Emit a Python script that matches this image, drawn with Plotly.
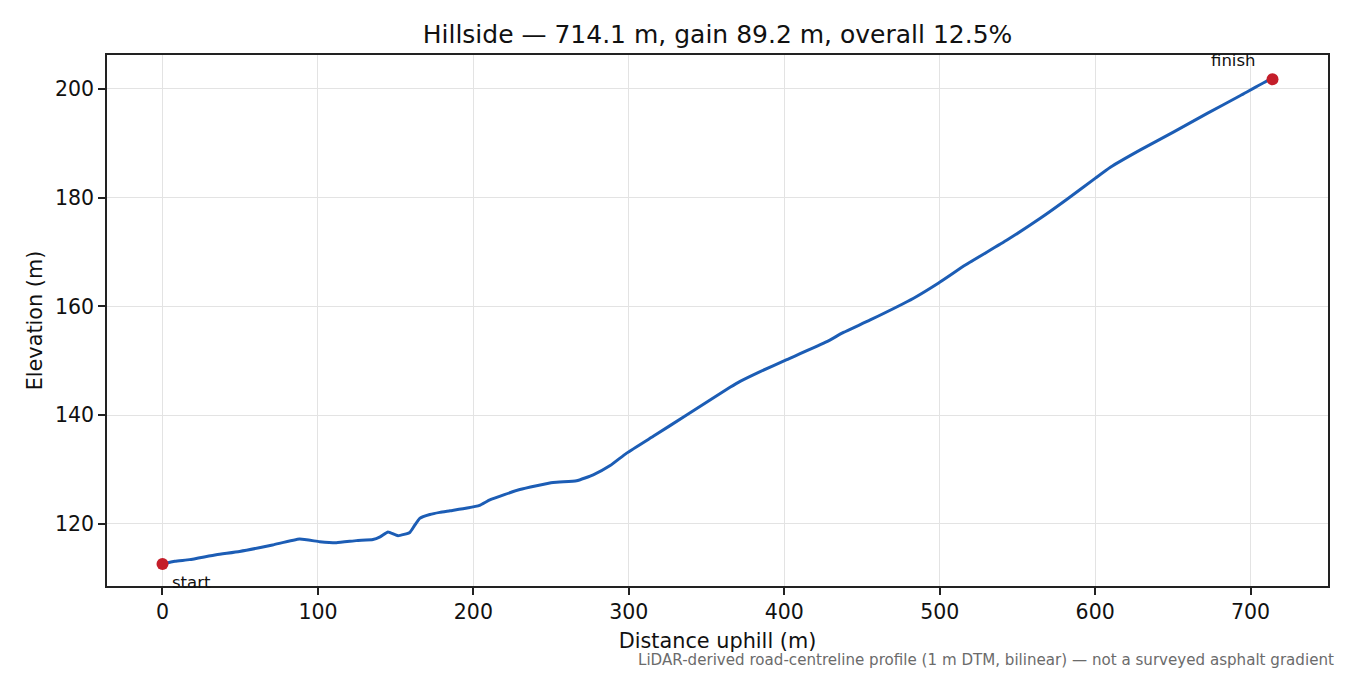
import plotly.graph_objects as go

# ---- data ----
distance_m = [0, 8, 17.4, 34.6, 49.6, 70.8, 88.2, 101.1, 111.9, 124.7, 135.4, 140,
              145.1, 151.5, 159.1, 162, 165.5, 172, 178.4, 185, 196, 204, 210.6,
              229.9, 251.3, 266.4, 277.1, 288, 298.6, 315.7, 337.2, 365.1, 371.6,
              384.5, 401.6, 427.4, 438.1, 455.3, 483.2, 499.3, 516.5, 543.3, 564.7,
              581.9, 600.2, 609.8, 629.1, 650.6, 672.1, 693.5, 710.7, 714.1]
elevation_m = [112.6, 113.1, 113.4, 114.3, 114.9, 116.1, 117.2, 116.7, 116.5, 116.9, 117.1, 117.6,
               118.5, 117.8, 118.4, 119.6, 121.0, 121.7, 122.1, 122.4, 122.9, 123.4, 124.4,
               126.3, 127.6, 127.9, 129.0, 130.7, 133.0, 136.1, 140.0, 145.1, 146.2,
               148.0, 150.2, 153.5, 155.2, 157.5, 161.5, 164.3, 167.6, 172.2, 176.2,
               179.7, 183.6, 185.6, 188.8, 192.1, 195.5, 198.8, 201.5, 201.8]
endpoint_labels = ["start", "finish"]
x_ticks = [0, 100, 200, 300, 400, 500, 600, 700]
y_ticks = [120, 140, 160, 180, 200]

title_text = "Hillside — 714.1 m, gain 89.2 m, overall 12.5%"
note_text = "LiDAR-derived road-centreline profile (1 m DTM, bilinear) — not a surveyed asphalt gradient"

FONT = "DejaVu Sans"
LINE_BLUE = "#1c5db5"
MARK_RED = "#c41e2a"

fig = go.Figure()
fig.add_trace(go.Scatter(x=distance_m, y=elevation_m, mode="lines",
                         line=dict(color=LINE_BLUE, width=3, shape="spline", smoothing=0.4),
                         showlegend=False, hoverinfo="skip"))
end_x = [distance_m[0], distance_m[-1]]
end_y = [elevation_m[0], elevation_m[-1]]
fig.add_trace(go.Scatter(x=end_x, y=end_y, mode="markers",
                         marker=dict(color=MARK_RED, size=12), showlegend=False))

fig.add_annotation(x=end_x[0], y=end_y[0], text=endpoint_labels[0], showarrow=False,
                   xanchor="left", yanchor="middle", xshift=8, yshift=-19,
                   font=dict(family=FONT, size=16.5, color="#111"))
fig.add_annotation(x=end_x[1], y=end_y[1], text=endpoint_labels[1], showarrow=False,
                   xanchor="center", yanchor="middle", xshift=-39, yshift=19,
                   font=dict(family=FONT, size=16.5, color="#111"))

# page body has an 8px margin, so the figure is drawn 8px right/down
OFF = 8
W, H = 1350 - OFF, 675 - OFF
L, R, T, B = 107 - OFF, 22, 55 - OFF, 89
pw = W - L - R
ph = H - T - B
fig.add_annotation(xref="paper", yref="paper", x=(1336 - 107) / pw, y=(586 - 660) / ph,
                   text=note_text, showarrow=False, xanchor="right", yanchor="middle",
                   font=dict(family=FONT, size=15.1, color="#6b6b6b"))

axis_common = dict(showline=True, linecolor="#222", linewidth=1.5, mirror=True,
                   ticks="outside", ticklen=7, tickwidth=1.5, tickcolor="#222",
                   showgrid=True, gridcolor="#e3e3e3", gridwidth=1.2, zeroline=False,
                   tickfont=dict(family=FONT, size=20.5, color="#111"))

fig.update_layout(
    width=W, height=H,
    margin=dict(l=L, r=R, t=T, b=B),
    plot_bgcolor="white", paper_bgcolor="white",
    font=dict(family=FONT, color="#111"),
    title=dict(text=title_text, x=0.5, xref="paper", xanchor="center",
               y=1 - (34 - OFF) / H, yref="container", yanchor="middle",
               font=dict(family=FONT, size=25, color="#111")),
    xaxis=dict(range=[-35.7, 749.8], tickvals=x_ticks,
               title=dict(text="Distance uphill (m)", standoff=10,
                          font=dict(family=FONT, size=20.8, color="#111")),
               **axis_common),
    yaxis=dict(range=[108.55, 206.25], tickvals=y_ticks,
               title=dict(text="Elevation (m)", standoff=7,
                          font=dict(family=FONT, size=20.8, color="#111")),
               **axis_common),
)

fig.write_html("out.html")
